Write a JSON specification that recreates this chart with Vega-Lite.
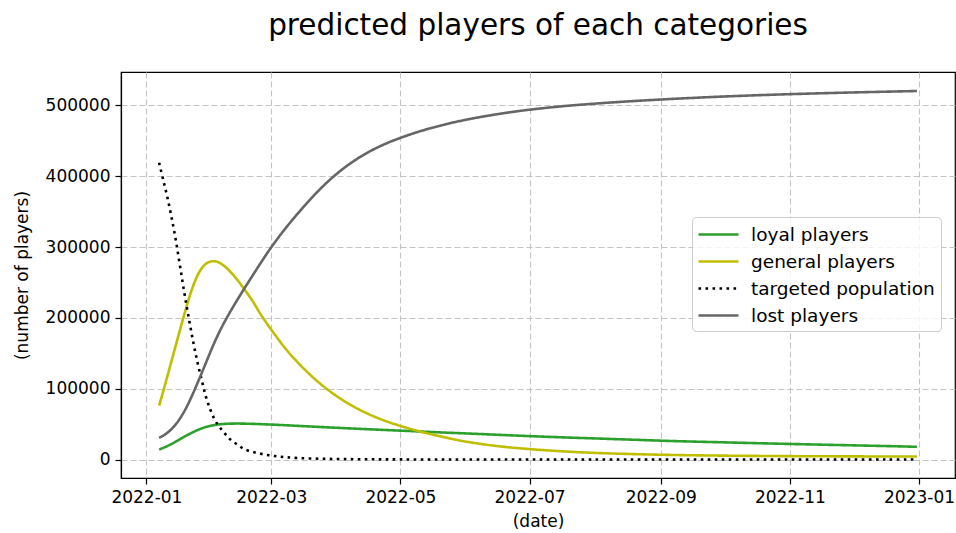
{
  "$schema": "https://vega.github.io/schema/vega-lite/v6.json",
  "width": 834,
  "height": 406,
  "autosize": {"type": "none"},
  "padding": {"left": 121, "top": 72, "right": 1, "bottom": 55},
  "background": "white",
  "title": {
    "text": "predicted players of each categories",
    "font": "DejaVu Sans",
    "fontSize": 29.5,
    "fontWeight": "normal",
    "color": "black",
    "anchor": "middle",
    "offset": 31
  },
  "data": {
    "values": [
      {"date": "2022-01-07", "loyal": 14200, "general": 76000, "targeted": 419000, "lost": 30600},
      {"date": "2022-01-09", "loyal": 16500, "general": 97000, "targeted": 394000, "lost": 33800},
      {"date": "2022-01-11", "loyal": 19200, "general": 118500, "targeted": 369000, "lost": 38000},
      {"date": "2022-01-13", "loyal": 22200, "general": 140500, "targeted": 340000, "lost": 43400},
      {"date": "2022-01-15", "loyal": 25500, "general": 162500, "targeted": 308000, "lost": 50200},
      {"date": "2022-01-17", "loyal": 29000, "general": 184500, "targeted": 271000, "lost": 58600},
      {"date": "2022-01-19", "loyal": 32400, "general": 206000, "targeted": 234000, "lost": 68600},
      {"date": "2022-01-21", "loyal": 35600, "general": 226500, "targeted": 200000, "lost": 80200},
      {"date": "2022-01-23", "loyal": 38600, "general": 244500, "targeted": 168000, "lost": 93200},
      {"date": "2022-01-25", "loyal": 41400, "general": 259000, "targeted": 139000, "lost": 107000},
      {"date": "2022-01-27", "loyal": 43800, "general": 269500, "targeted": 114000, "lost": 121200},
      {"date": "2022-01-29", "loyal": 45800, "general": 276000, "targeted": 90000, "lost": 135700},
      {"date": "2022-01-31", "loyal": 47400, "general": 279300, "targeted": 72000, "lost": 150200},
      {"date": "2022-02-02", "loyal": 48600, "general": 280000, "targeted": 58000, "lost": 164200},
      {"date": "2022-02-04", "loyal": 49500, "general": 278500, "targeted": 48000, "lost": 177200},
      {"date": "2022-02-06", "loyal": 50100, "general": 275000, "targeted": 40500, "lost": 189200},
      {"date": "2022-02-08", "loyal": 50500, "general": 270000, "targeted": 33500, "lost": 200200},
      {"date": "2022-02-10", "loyal": 50700, "general": 264000, "targeted": 27500, "lost": 210700},
      {"date": "2022-02-13", "loyal": 50800, "general": 253500, "targeted": 21000, "lost": 225700},
      {"date": "2022-02-16", "loyal": 50700, "general": 241500, "targeted": 15000, "lost": 240200},
      {"date": "2022-02-20", "loyal": 50400, "general": 224500, "targeted": 11000, "lost": 259000},
      {"date": "2022-02-24", "loyal": 50000, "general": 205000, "targeted": 8200, "lost": 277500},
      {"date": "2022-02-28", "loyal": 49500, "general": 187500, "targeted": 6000, "lost": 295500},
      {"date": "2022-03-04", "loyal": 49000, "general": 171000, "targeted": 4400, "lost": 312000},
      {"date": "2022-03-08", "loyal": 48400, "general": 155500, "targeted": 3200, "lost": 327500},
      {"date": "2022-03-14", "loyal": 47500, "general": 135500, "targeted": 2100, "lost": 349000},
      {"date": "2022-03-22", "loyal": 46300, "general": 112500, "targeted": 1300, "lost": 375500},
      {"date": "2022-03-30", "loyal": 45100, "general": 93500, "targeted": 850, "lost": 398500},
      {"date": "2022-04-07", "loyal": 44000, "general": 78000, "targeted": 550, "lost": 417300},
      {"date": "2022-04-15", "loyal": 42900, "general": 65500, "targeted": 380, "lost": 432500},
      {"date": "2022-04-23", "loyal": 41800, "general": 55500, "targeted": 260, "lost": 444500},
      {"date": "2022-05-01", "loyal": 40800, "general": 47500, "targeted": 180, "lost": 454100},
      {"date": "2022-05-11", "loyal": 39500, "general": 39000, "targeted": 120, "lost": 464100},
      {"date": "2022-05-21", "loyal": 38200, "general": 32000, "targeted": 80, "lost": 472300},
      {"date": "2022-05-31", "loyal": 37000, "general": 25800, "targeted": 60, "lost": 479100},
      {"date": "2022-06-15", "loyal": 35100, "general": 19300, "targeted": 40, "lost": 487200},
      {"date": "2022-06-30", "loyal": 33200, "general": 15000, "targeted": 30, "lost": 493500},
      {"date": "2022-07-15", "loyal": 31500, "general": 11900, "targeted": 25, "lost": 498300},
      {"date": "2022-07-30", "loyal": 30000, "general": 9600, "targeted": 20, "lost": 502050},
      {"date": "2022-08-19", "loyal": 28000, "general": 7700, "targeted": 15, "lost": 506050},
      {"date": "2022-09-08", "loyal": 26000, "general": 6400, "targeted": 12, "lost": 509350},
      {"date": "2022-09-28", "loyal": 24500, "general": 5600, "targeted": 10, "lost": 512150},
      {"date": "2022-10-18", "loyal": 23000, "general": 5100, "targeted": 8, "lost": 514450},
      {"date": "2022-11-07", "loyal": 21600, "general": 4700, "targeted": 7, "lost": 516350},
      {"date": "2022-11-27", "loyal": 20300, "general": 4500, "targeted": 6, "lost": 517950},
      {"date": "2022-12-17", "loyal": 19000, "general": 4300, "targeted": 5, "lost": 519350},
      {"date": "2022-12-31", "loyal": 18000, "general": 4200, "targeted": 4, "lost": 520260}
    ]
  },
  "transform": [
    {"fold": ["loyal", "general", "targeted", "lost"], "as": ["category", "players"]}
  ],
  "mark": {"type": "line", "interpolate": "catmull-rom", "strokeWidth": 2.6, "clip": true},
  "encoding": {
    "x": {
      "field": "date",
      "type": "temporal",
      "scale": {
        "type": "utc",
        "nice": false,
        "domain": [
          {"year": 2021, "month": 12, "date": 20, "utc": true},
          {"year": 2023, "month": 1, "date": 18, "utc": true}
        ]
      },
      "axis": {
        "title": "(date)",
        "labelExpr": "utcFormat(datum.value, '%Y-%m')",
        "titlePadding": 8,
        "values": [
          {"year": 2022, "month": 1, "date": 1, "utc": true},
          {"year": 2022, "month": 3, "date": 1, "utc": true},
          {"year": 2022, "month": 5, "date": 1, "utc": true},
          {"year": 2022, "month": 7, "date": 1, "utc": true},
          {"year": 2022, "month": 9, "date": 1, "utc": true},
          {"year": 2022, "month": 11, "date": 1, "utc": true},
          {"year": 2023, "month": 1, "date": 1, "utc": true}
        ]
      }
    },
    "y": {
      "field": "players",
      "type": "quantitative",
      "scale": {"domain": [-26050, 547100], "nice": false, "zero": false},
      "axis": {
        "title": "(number of players)",
        "format": "d",
        "titlePadding": 14,
        "values": [0, 100000, 200000, 300000, 400000, 500000]
      }
    },
    "color": {
      "field": "category",
      "type": "nominal",
      "scale": {
        "domain": ["loyal", "general", "targeted", "lost"],
        "range": ["#2ca02c", "#bfbf00", "#000000", "#666666"]
      },
      "legend": {
        "title": null,
        "orient": "none",
        "legendX": 571,
        "legendY": 145,
        "symbolType": "M-2,0L2,0",
        "symbolSize": 400,
        "symbolStrokeWidth": 2.6,
        "symbolOffset": 9,
        "labelOffset": 21,
        "labelFont": "DejaVu Sans",
        "labelFontSize": 18.5,
        "labelColor": "black",
        "labelLimit": 0,
        "padding": 6,
        "rowPadding": 6,
        "fillColor": "rgba(255,255,255,0.8)",
        "strokeColor": "#cccccc",
        "cornerRadius": 4,
        "labelExpr": "{'loyal': 'loyal players', 'general': 'general players', 'targeted': 'targeted population', 'lost': 'lost players'}[datum.label]"
      }
    },
    "strokeDash": {
      "field": "category",
      "type": "nominal",
      "scale": {
        "domain": ["loyal", "general", "targeted", "lost"],
        "range": [[1, 0], [1, 0], [2.6, 4.4], [1, 0]]
      }
    }
  },
  "config": {
    "view": {"stroke": "black", "strokeWidth": 1.2},
    "axis": {
      "domainColor": "black",
      "domainWidth": 1.2,
      "tickColor": "black",
      "tickWidth": 1.2,
      "tickSize": 6,
      "labelFont": "DejaVu Sans",
      "labelFontSize": 17,
      "labelColor": "black",
      "labelPadding": 5,
      "titleFont": "DejaVu Sans",
      "titleFontSize": 17,
      "titleFontWeight": "normal",
      "titleColor": "black",
      "grid": true,
      "gridColor": "#c4c4c4",
      "gridDash": [6, 3],
      "gridWidth": 1.1
    }
  }
}
